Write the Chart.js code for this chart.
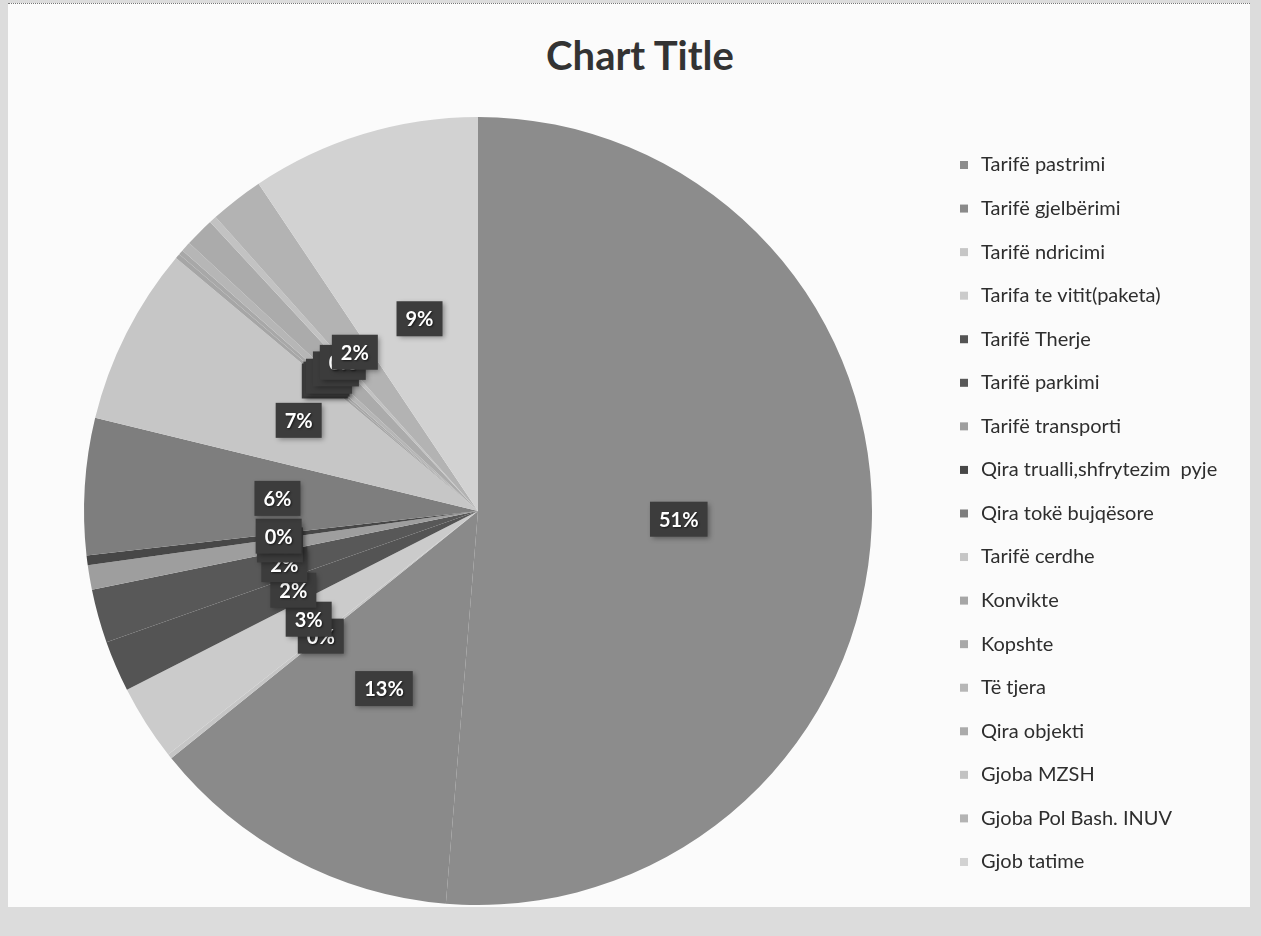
<!DOCTYPE html>
<html>
<head>
<meta charset="utf-8">
<script src="https://cdn.jsdelivr.net/npm/chart.js@4.4.1/dist/chart.umd.min.js"></script>
<style>
  html, body { margin: 0; padding: 0; }
  body { width: 1261px; height: 936px; background: #dcdcdc; position: relative; overflow: hidden; font-family: Lato, "Noto Sans", sans-serif; }
  #frame { position: absolute; left: 8px; top: 3px; width: 1242px; height: 903px; background: #fbfbfb; border-top: 1px dotted #777; }
  #title { position: absolute; left: 0; top: 31px; width: 1280px; text-align: center; font: bold 40px Lato, "Noto Sans", sans-serif; line-height: 48px; color: #333333; }
  #c { position: absolute; left: 0; top: 0; }
</style>
</head>
<body>
<div id="frame"></div>
<div id="title">Chart Title</div>
<canvas id="c" width="1261" height="936"></canvas>
<script>
// ---- data ----
const categories = [
  "Tarifë pastrimi",
  "Tarifë gjelbërimi",
  "Tarifë ndricimi",
  "Tarifa te vitit(paketa)",
  "Tarifë Therje",
  "Tarifë parkimi",
  "Tarifë transporti",
  "Qira trualli,shfrytezim  pyje",
  "Qira tokë bujqësore",
  "Tarifë cerdhe",
  "Konvikte",
  "Kopshte",
  "Të tjera",
  "Qira objekti",
  "Gjoba MZSH",
  "Gjoba Pol Bash. INUV",
  "Gjob tatime"
];
const shares = [51.3, 12.9, 0.2, 3.1, 2.1, 2.2, 1.0, 0.4, 5.6, 7.3, 0.2, 0.2, 0.4, 1.2, 0.3, 2.2, 9.4];
const sliceColors = [
  "#8c8c8c", "#8a8a8a", "#c6c6c6", "#cbcbcb", "#545454", "#585858",
  "#9e9e9e", "#474747", "#7e7e7e", "#c6c6c6", "#a6a6a6", "#a8a8a8",
  "#b6b6b6", "#ababab", "#c2c2c2", "#b3b3b3", "#d2d2d2"
];

// ---- plugins ----
const pctLabels = {
  id: 'pctLabels',
  afterDatasetsDraw(chart) {
    const ctx = chart.ctx;
    const meta = chart.getDatasetMeta(0);
    const vals = chart.data.datasets[0].data;
    const total = vals.reduce((a, b) => a + b, 0);
    ctx.save();
    ctx.font = 'bold 20px Lato, "Noto Sans", sans-serif';
    ctx.textAlign = 'center';
    ctx.textBaseline = 'middle';
    meta.data.forEach((arc, i) => {
      const p = arc.getProps(['x', 'y', 'startAngle', 'endAngle', 'outerRadius'], true);
      const mid = (p.startAngle + p.endAngle) / 2;
      const rr = p.outerRadius * 0.51;
      const px = p.x + Math.cos(mid) * rr;
      const py = p.y + Math.sin(mid) * rr;
      const txt = Math.round(vals[i] / total * 100) + '%';
      const w = ctx.measureText(txt).width + 18;
      const h = 35;
      ctx.shadowColor = 'rgba(0,0,0,0.35)';
      ctx.shadowBlur = 5;
      ctx.shadowOffsetX = 2;
      ctx.shadowOffsetY = 2;
      ctx.fillStyle = '#3c3c3c';
      ctx.fillRect(px - w / 2, py - h / 2, w, h);
      ctx.shadowColor = 'rgba(0,0,0,0.6)';
      ctx.shadowBlur = 2;
      ctx.shadowOffsetX = 1;
      ctx.shadowOffsetY = 1;
      ctx.fillStyle = '#ffffff';
      ctx.fillText(txt, px, py + 1);
      ctx.shadowColor = 'transparent';
    });
    ctx.restore();
  }
};

const sideLegend = {
  id: 'sideLegend',
  afterDraw(chart) {
    const ctx = chart.ctx;
    const labels = chart.data.labels;
    const colors = chart.data.datasets[0].backgroundColor;
    ctx.save();
    ctx.font = '20px Lato, "Noto Sans", sans-serif';
    ctx.textBaseline = 'middle';
    ctx.textAlign = 'left';
    labels.forEach((lab, i) => {
      const y = 165 + i * 43.56;
      ctx.fillStyle = colors[i];
      ctx.fillRect(960, y - 4, 8, 8);
      ctx.fillStyle = '#2e2e2e';
      ctx.fillText(lab, 981, y);
    });
    ctx.restore();
  }
};

new Chart(document.getElementById('c'), {
  type: 'pie',
  data: {
    labels: categories,
    datasets: [{
      data: shares,
      backgroundColor: sliceColors,
      borderWidth: 0,
      radius: 394
    }]
  },
  options: {
    responsive: false,
    animation: false,
    devicePixelRatio: 1,
    layout: { padding: { top: 111, bottom: 25, left: 0, right: 305 } },
    plugins: {
      legend: { display: false },
      title: { display: false },
      tooltip: { enabled: false }
    }
  },
  plugins: [pctLabels, sideLegend]
});
</script>
</body>
</html>
